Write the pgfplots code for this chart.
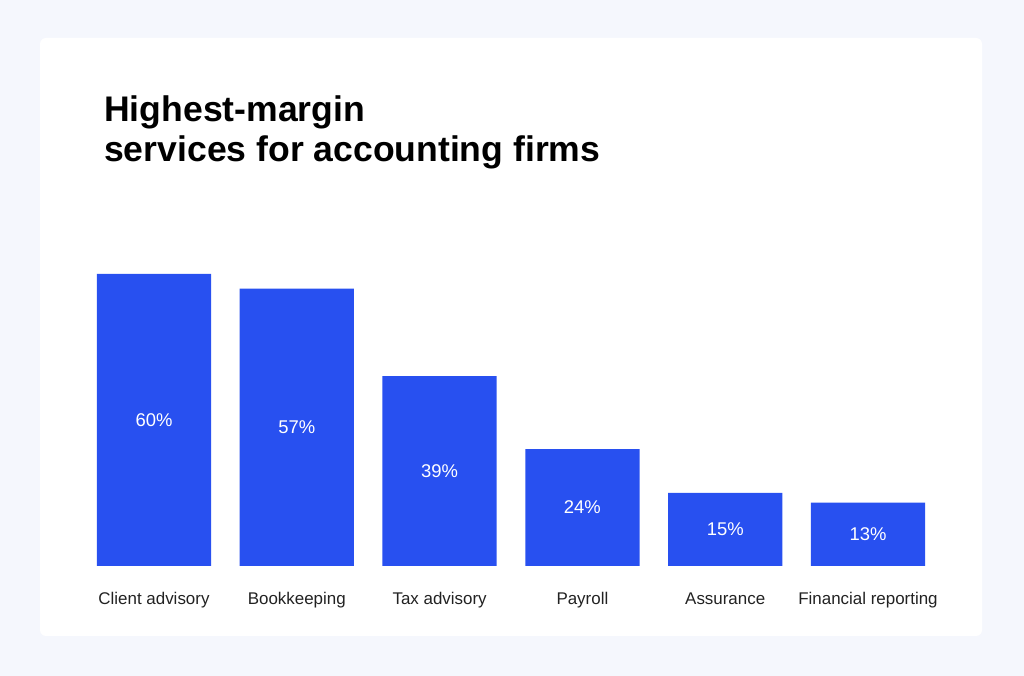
\documentclass[border=0pt]{standalone}
\usepackage{fontspec}
\setmainfont{Liberation Sans}
\usepackage{pgfplots}
\pgfplotsset{compat=1.18}
\definecolor{barblue}{HTML}{2850F0}
\definecolor{bgc}{HTML}{F5F7FD}
\definecolor{labc}{HTML}{222222}
\begin{document}
\begin{tikzpicture}[x=1bp,y=1bp]
\fill[bgc] (0,0) rectangle (1024,676);
\useasboundingbox (0,0) rectangle (1024,676);
\fill[white, rounded corners=6bp] (40,40) rectangle (982,638);
\node[anchor=base west, font=\fontsize{35.7}{40}\selectfont\bfseries, text=black, inner sep=0pt] at (104,554) {Highest-margin};
\node[anchor=base west, font=\fontsize{35.7}{40}\selectfont\bfseries, text=black, inner sep=0pt] at (104,514) {services for accounting firms};
\begin{axis}[
  at={(82.6bp,110bp)}, anchor=south west,
  scale only axis, width=856.8bp, height=292bp,
  xmin=-0.5, xmax=5.5, ymin=0, ymax=60,
  axis line style={draw=none},
  ytick=\empty,
  xtick={0,1,2,3,4,5},
  xticklabels={Client advisory,Bookkeeping,Tax advisory,Payroll,Assurance,Financial reporting},
  major tick length=0pt,
  xticklabel style={font=\fontsize{17}{20}\selectfont, text=labc, anchor=base, yshift=-38.5bp},
  clip=false,
]
\addplot[ybar, bar width=0.8, fill=barblue, draw=none] coordinates {(0,60) (1,57) (2,39) (3,24) (4,15) (5,13)};
\addplot[draw=none, nodes near coords, point meta=explicit symbolic,
  every node near coord/.style={anchor=center, text=white, font=\fontsize{18.5}{20}\selectfont}]
  coordinates {(0,30) [60\%] (1,28.5) [57\%] (2,19.5) [39\%] (3,12) [24\%] (4,7.5) [15\%] (5,6.5) [13\%]};
\end{axis}
\end{tikzpicture}
\end{document}
